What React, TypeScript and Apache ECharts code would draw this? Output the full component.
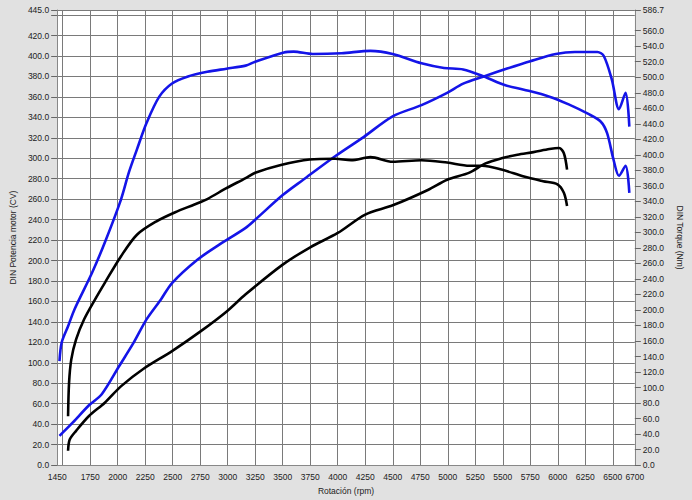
import React, { useEffect, useRef } from "react";
import * as echarts from "echarts";

// ---- data ----
const tunedPowerRpm = [1471, 1593, 1739, 1855, 2014, 2145, 2262, 2393, 2494, 2727, 2930, 3163, 3250, 3500, 3686, 3976, 4238, 4499, 4761, 4994, 5140, 5328, 5546, 5750, 5982, 6156, 6360, 6418, 6491, 6556, 6616, 6650];
const tunedPowerCv = [28.6, 41.7, 58.5, 69.3, 96.9, 119.7, 142.5, 162, 178, 201, 216, 232, 240, 264, 279, 302, 321, 341, 352, 364, 373, 380, 388, 395, 402, 404, 404, 400, 377, 348, 364, 331];

const tunedTorqueRpm = [1471, 1491, 1549, 1608, 1767, 1883, 2029, 2101, 2175, 2262, 2378, 2494, 2639, 2814, 2988, 3163, 3250, 3511, 3599, 3773, 4035, 4297, 4499, 4761, 4965, 5140, 5328, 5517, 5692, 5924, 6099, 6273, 6389, 6448, 6506, 6556, 6616, 6650];
const tunedTorqueNm = [134, 158, 179, 201, 248, 287, 342, 377, 407, 441, 475, 492, 501, 507, 511, 515, 520, 532, 533, 530, 531, 534, 530, 518, 512, 510, 501, 490, 484, 475, 465, 453, 443, 428, 394, 373, 386, 351];

const stockPowerRpm = [1549, 1564, 1622, 1739, 1883, 2029, 2232, 2494, 2756, 2988, 3163, 3500, 3750, 4000, 4250, 4500, 4819, 4994, 5197, 5343, 5488, 5633, 5779, 5924, 6011, 6055, 6084];
const stockPowerCv = [14, 25, 33.5, 48, 61, 77, 94, 111.5, 131, 150, 167, 196, 213, 227, 245, 254, 269, 279, 286, 295, 300, 303.5, 306, 309, 310, 305, 289];

const stockTorqueRpm = [1549, 1558, 1578, 1622, 1695, 1796, 1883, 2029, 2175, 2349, 2523, 2698, 2814, 2988, 3163, 3250, 3483, 3744, 3976, 4122, 4297, 4499, 4761, 4994, 5197, 5314, 5488, 5692, 5866, 5997, 6055, 6084];
const stockTorqueNm = [63, 106, 136, 162, 188, 214, 235, 269, 297, 314, 326, 336, 343, 357, 370, 377, 387, 394, 395, 393, 397, 391, 393, 390, 386, 386, 381, 372, 366, 362, 351, 334];

const xLabelValues = [1450, 1750, 2000, 2250, 2500, 2750, 3000, 3250, 3500, 3750, 4000, 4250, 4500, 4750, 5000, 5250, 5500, 5750, 6000, 6250, 6500, 6700];
const xGridValues = [1500, 1750, 2000, 2250, 2500, 2750, 3000, 3250, 3500, 3750, 4000, 4250, 4500, 4750, 5000, 5250, 5500, 5750, 6000, 6250, 6500];
const leftLabelValues = [0, 20, 40, 60, 80, 100, 120, 140, 160, 180, 200, 220, 240, 260, 280, 300, 320, 340, 360, 380, 400, 420, 445];
const rightLabelValues = [0, 20, 40, 60, 80, 100, 120, 140, 160, 180, 200, 220, 240, 260, 280, 300, 320, 340, 360, 380, 400, 420, 440, 460, 480, 500, 520, 540, 560, 586.7];

const xMin = 1450;
const xMax = 6700;
const leftMax = 445;
const rightMax = 586.7;

const zip = (a: number[], b: number[]) => a.map((v, i) => [v, b[i]]);

const FONT = "'Liberation Sans', Arial, sans-serif";
const TXT = "#222";

export default function App() {
  const ref = useRef<HTMLDivElement>(null);
  useEffect(() => {
    if (!ref.current) return;
    const chart = echarts.init(ref.current, undefined, { renderer: "svg" });
    const lineStyleBase = { width: 2.6 };
    chart.setOption({
      animation: false,
      backgroundColor: "#e1e1e1",
      textStyle: { fontFamily: FONT },
      grid: {
        left: 44,
        right: 46,
        top: 10,
        bottom: 34,
        show: true,
        backgroundColor: "#ffffff",
        borderColor: "#999",
        borderWidth: 0,
      },
      xAxis: {
        type: "value",
        min: xMin,
        max: xMax,
        name: "Rotación (rpm)",
        nameLocation: "middle",
        nameGap: 20,
        nameTextStyle: { color: TXT, fontSize: 8.5, fontFamily: FONT },
        axisLine: { show: true, lineStyle: { color: "#888" } },
        axisTick: { show: false, customValues: xGridValues },
        axisLabel: {
          customValues: xLabelValues,
          color: TXT,
          fontSize: 8.5,
          fontFamily: FONT,
          margin: 7,
          formatter: (v: number) => String(v),
        },
        splitLine: { show: true, lineStyle: { color: "#7a7a7a", width: 1 } },
      },
      yAxis: [
        {
          type: "value",
          min: 0,
          max: leftMax,
          interval: 20,
          position: "left",
          name: "DIN Potencia motor (CV)",
          nameLocation: "middle",
          nameGap: 34,
          nameTextStyle: { color: TXT, fontSize: 8.5, fontFamily: FONT },
          axisLine: { show: true, lineStyle: { color: "#888" } },
          axisTick: { show: true, length: 6, lineStyle: { color: "#666" } },
          axisLabel: {
            customValues: leftLabelValues,
            color: TXT,
            fontSize: 8.5,
            fontFamily: FONT,
            margin: 8,
            formatter: (v: number) => v.toFixed(1),
          },
          splitLine: { show: true, lineStyle: { color: "#7a7a7a", width: 1 } },
        },
        {
          type: "value",
          min: 0,
          max: rightMax,
          position: "right",
          name: "DIN Torque (Nm)",
          nameLocation: "middle",
          nameGap: 34,
          nameRotate: -90,
          nameTextStyle: { color: TXT, fontSize: 8.5, fontFamily: FONT },
          axisLine: { show: true, lineStyle: { color: "#888" } },
          axisTick: { show: true, length: 6, customValues: rightLabelValues, lineStyle: { color: "#666" } },
          axisLabel: {
            customValues: rightLabelValues,
            color: TXT,
            fontSize: 8.5,
            fontFamily: FONT,
            margin: 8,
            formatter: (v: number) => v.toFixed(1),
          },
          splitLine: { show: false },
        },
      ],
      series: [
        {
          name: "Potencia tuned",
          type: "line",
          yAxisIndex: 0,
          data: zip(tunedPowerRpm, tunedPowerCv),
          smooth: 0.3,
          showSymbol: false,
          lineStyle: { ...lineStyleBase, color: "#1414e8" },
          itemStyle: { color: "#1414e8" },
        },
        {
          name: "Par tuned",
          type: "line",
          yAxisIndex: 1,
          data: zip(tunedTorqueRpm, tunedTorqueNm),
          smooth: 0.3,
          showSymbol: false,
          lineStyle: { ...lineStyleBase, color: "#1414e8" },
          itemStyle: { color: "#1414e8" },
        },
        {
          name: "Potencia serie",
          type: "line",
          yAxisIndex: 0,
          data: zip(stockPowerRpm, stockPowerCv),
          smooth: 0.3,
          showSymbol: false,
          lineStyle: { ...lineStyleBase, color: "#000000" },
          itemStyle: { color: "#000000" },
        },
        {
          name: "Par serie",
          type: "line",
          yAxisIndex: 1,
          data: zip(stockTorqueRpm, stockTorqueNm),
          smooth: 0.3,
          showSymbol: false,
          lineStyle: { ...lineStyleBase, color: "#000000" },
          itemStyle: { color: "#000000" },
        },
      ],
    });
    return () => chart.dispose();
  }, []);
  return (
    <div
      ref={ref}
      style={{ position: "fixed", left: 0, top: 0, width: 692, height: 500 }}
    />
  );
}
